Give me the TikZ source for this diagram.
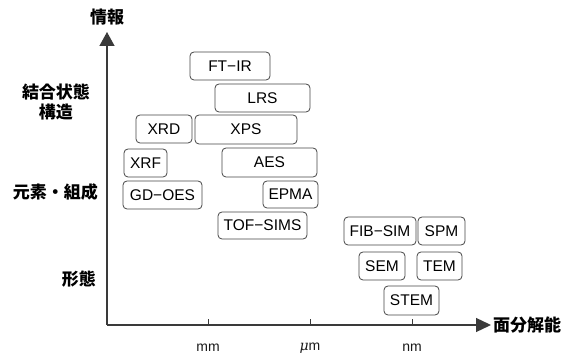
\documentclass[tikz,border=0pt]{standalone}
\usepackage{fontspec}
\setmainfont{Liberation Sans}
\newfontfamily\cjk{Noto Sans CJK JP}
\usetikzlibrary{arrows.meta}
\definecolor{axisgray}{HTML}{3A3A3A}
\definecolor{boxgray}{HTML}{444444}
\tikzset{
  method/.style={draw=boxgray, line width=0.8pt, rounded corners=4pt, inner sep=0pt,
    font=\fontsize{15.5}{15.5}\selectfont, text=black},
  axislabel/.style={font=\cjk\bfseries\fontsize{17}{20}\selectfont, text=black, inner sep=0pt, align=center},
  unitlabel/.style={font=\fontsize{14}{14}\selectfont, text=black!90, inner sep=0pt},
  axisline/.style={draw=axisgray, line width=1.3pt},
  tickline/.style={draw=axisgray, line width=1pt}
}
\newcommand{\methodbox}[6]{%
  \node[method, minimum width=#4pt-#2pt, minimum height=#5pt-#3pt]
    (#1) at ({(#2+#4)/2}, {(#3+#5)/2}) {#6};}
\begin{document}
\begin{tikzpicture}[x=1pt, y=-1pt]
\useasboundingbox (0,0) rectangle (579,358);

% axes
\coordinate (O) at (107,325);
\coordinate (ytip) at (107,32);
\coordinate (xtip) at (491,325);
\draw[axisline, -{Triangle[length=14pt, width=15pt]}] (O) -- (ytip);
\draw[axisline, -{Triangle[length=15pt, width=14pt]}] (O) -- (xtip);

% axis titles
\node[axislabel] (info) at (107,17) {情報};
\node[axislabel, anchor=west] (res) at (493,325) {面分解能};

% category labels
\node[axislabel] (bond) at (56,102) {結合状態\\構造};
\node[axislabel, anchor=east] (elem) at (98,192) {元素・組成};
\node[axislabel, anchor=east] (morph) at (96,279) {形態};

% ticks and units
\foreach \n/\xx in {tmm/208, tum/310, tnm/412}{
  \coordinate (\n) at (\xx,325);
  \coordinate (\n top) at (\xx,319);
  \draw[tickline] (\n) -- (\n top);
}
\node[unitlabel] (mm) at (208,348) {mm};
\node[unitlabel] (um) at (310,348) {\fontspec{DejaVu Serif}\itshape μ\normalfont m};
\node[unitlabel] (nm) at (412,348) {nm};

% methods
\methodbox{ftir}{190}{52}{270}{80}{FT−IR}
\methodbox{lrs}{215}{84}{310}{112}{LRS}
\methodbox{xrd}{136}{115}{192}{143}{XRD}
\methodbox{xps}{195}{115}{297}{144}{XPS}
\methodbox{xrf}{124}{149}{167}{177}{XRF}
\methodbox{aes}{222}{148}{317}{177}{AES}
\methodbox{gdoes}{123}{181}{202}{209}{GD−OES}
\methodbox{epma}{263}{181}{318}{208}{EPMA}
\methodbox{tof}{218}{212}{307}{239}{TOF−SIMS}
\methodbox{fib}{344}{217}{416}{245}{FIB−SIM}
\methodbox{spm}{418}{217}{465}{245}{SPM}
\methodbox{sem}{359}{252}{405}{280}{SEM}
\methodbox{tem}{417}{252}{462}{280}{TEM}
\methodbox{stem}{384}{286}{439}{315}{STEM}
\end{tikzpicture}
\end{document}
